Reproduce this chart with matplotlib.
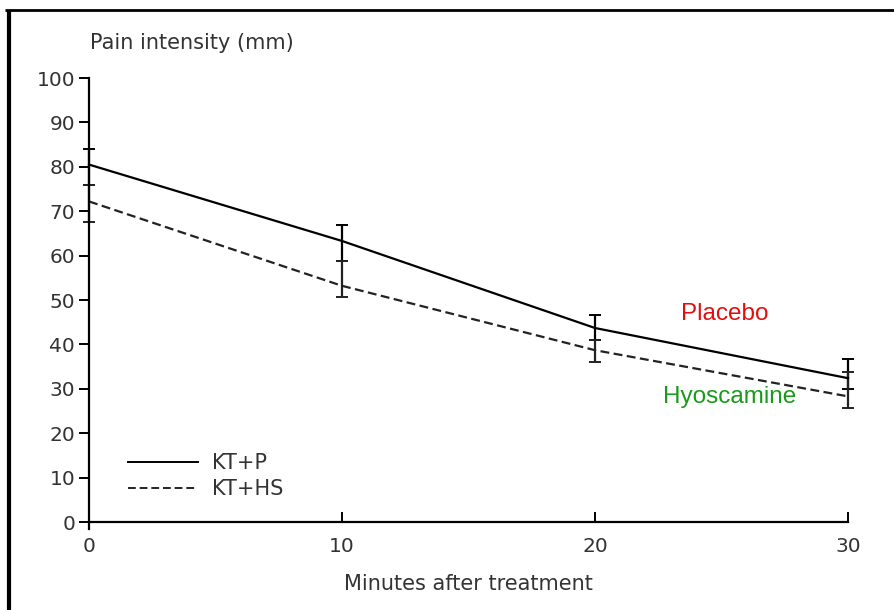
import matplotlib
matplotlib.use("Agg")
import matplotlib.pyplot as plt
from matplotlib.lines import Line2D

plt.rcParams['font.family'] = ['DejaVu Sans']

minutes = [0, 10, 20, 30]

placebo = [80.5, 63.3, 43.7, 32.4]
placebo_hi = [84.0, 67.0, 46.6, 36.7]
placebo_lo = [76.0, 58.8, 41.0, 30.0]

hyos = [72.2, 53.2, 38.7, 28.3]
hyos_hi = [76.0, 58.8, 41.0, 33.8]
hyos_lo = [67.6, 50.7, 36.0, 25.7]

fig = plt.figure(figsize=(8.94, 6.10), dpi=100)
ax = fig.add_axes([0.0996, 0.1333, 0.8489, 0.7388])

p_err = [[v - lo for v, lo in zip(placebo, placebo_lo)],
         [hi - v for v, hi in zip(placebo, placebo_hi)]]
h_err = [[v - lo for v, lo in zip(hyos, hyos_lo)],
         [hi - v for v, hi in zip(hyos, hyos_hi)]]

for ys, err, ls, col in [(placebo, p_err, '-', 'black'),
                         (hyos, h_err, (0, (4, 2)), '#222222')]:
    line, caps, bars = ax.errorbar(minutes, ys, yerr=err, color=col, lw=1.6,
                                   ls=ls, elinewidth=1.6, capsize=4,
                                   capthick=1.4)
    line.set_clip_on(False)
    for c in caps:
        c.set_clip_on(False)
    for b in bars:
        b.set_clip_on(False)

ax.set_xlim(0, 30)
ax.set_ylim(-1.5, 100)
ax.spines['top'].set_visible(False)
ax.spines['right'].set_visible(False)
ax.spines['bottom'].set_position(('data', 0))
ax.spines['left'].set_linewidth(1.6)
ax.spines['bottom'].set_linewidth(1.6)

ax.set_yticks(range(0, 101, 10))
ax.set_xticks([0, 10, 20, 30])
ax.tick_params(axis='y', direction='out', length=7, width=1.4,
               labelsize=14.5, colors='black', labelcolor='#333333', pad=3)
ax.tick_params(axis='x', direction='in', length=7, width=1.4,
               labelsize=14.5, labelcolor='#333333', pad=11)

ax.set_xlabel('Minutes after treatment', fontsize=15, color='#333333',
              labelpad=13)
fig.text(0.101, 0.929, 'Pain intensity (mm)', fontsize=15, color='#333333',
         ha='left', va='center')

ax.text(25.14, 46.8, 'Placebo', color='#e01010', fontsize=17.5,
        family='Liberation Sans', ha='center', va='center')
ax.text(25.34, 28.2, 'Hyoscamine', color='#1a9a1a', fontsize=17.5,
        family='Liberation Sans', ha='center', va='center')

handles = [Line2D([], [], color='black', lw=1.4),
           Line2D([], [], color='#222222', lw=1.4, ls=(0, (4, 2)))]
ax.legend(handles, ['KT+P', 'KT+HS'], loc='lower left',
          bbox_to_anchor=(0.027, 0.024), frameon=False, fontsize=15,
          handlelength=3.36, handletextpad=0.67, labelspacing=0.3,
          labelcolor='#333333')

fig.add_artist(Line2D([5 / 894, 1.0], [1 - 10 / 610, 1 - 10 / 610],
                      transform=fig.transFigure, color='black', lw=2,
                      solid_capstyle='butt'))
fig.add_artist(Line2D([9 / 894, 9 / 894], [0.0, 1 - 10 / 610],
                      transform=fig.transFigure, color='black', lw=3,
                      solid_capstyle='butt'))

fig.savefig('out.png', dpi=100)
